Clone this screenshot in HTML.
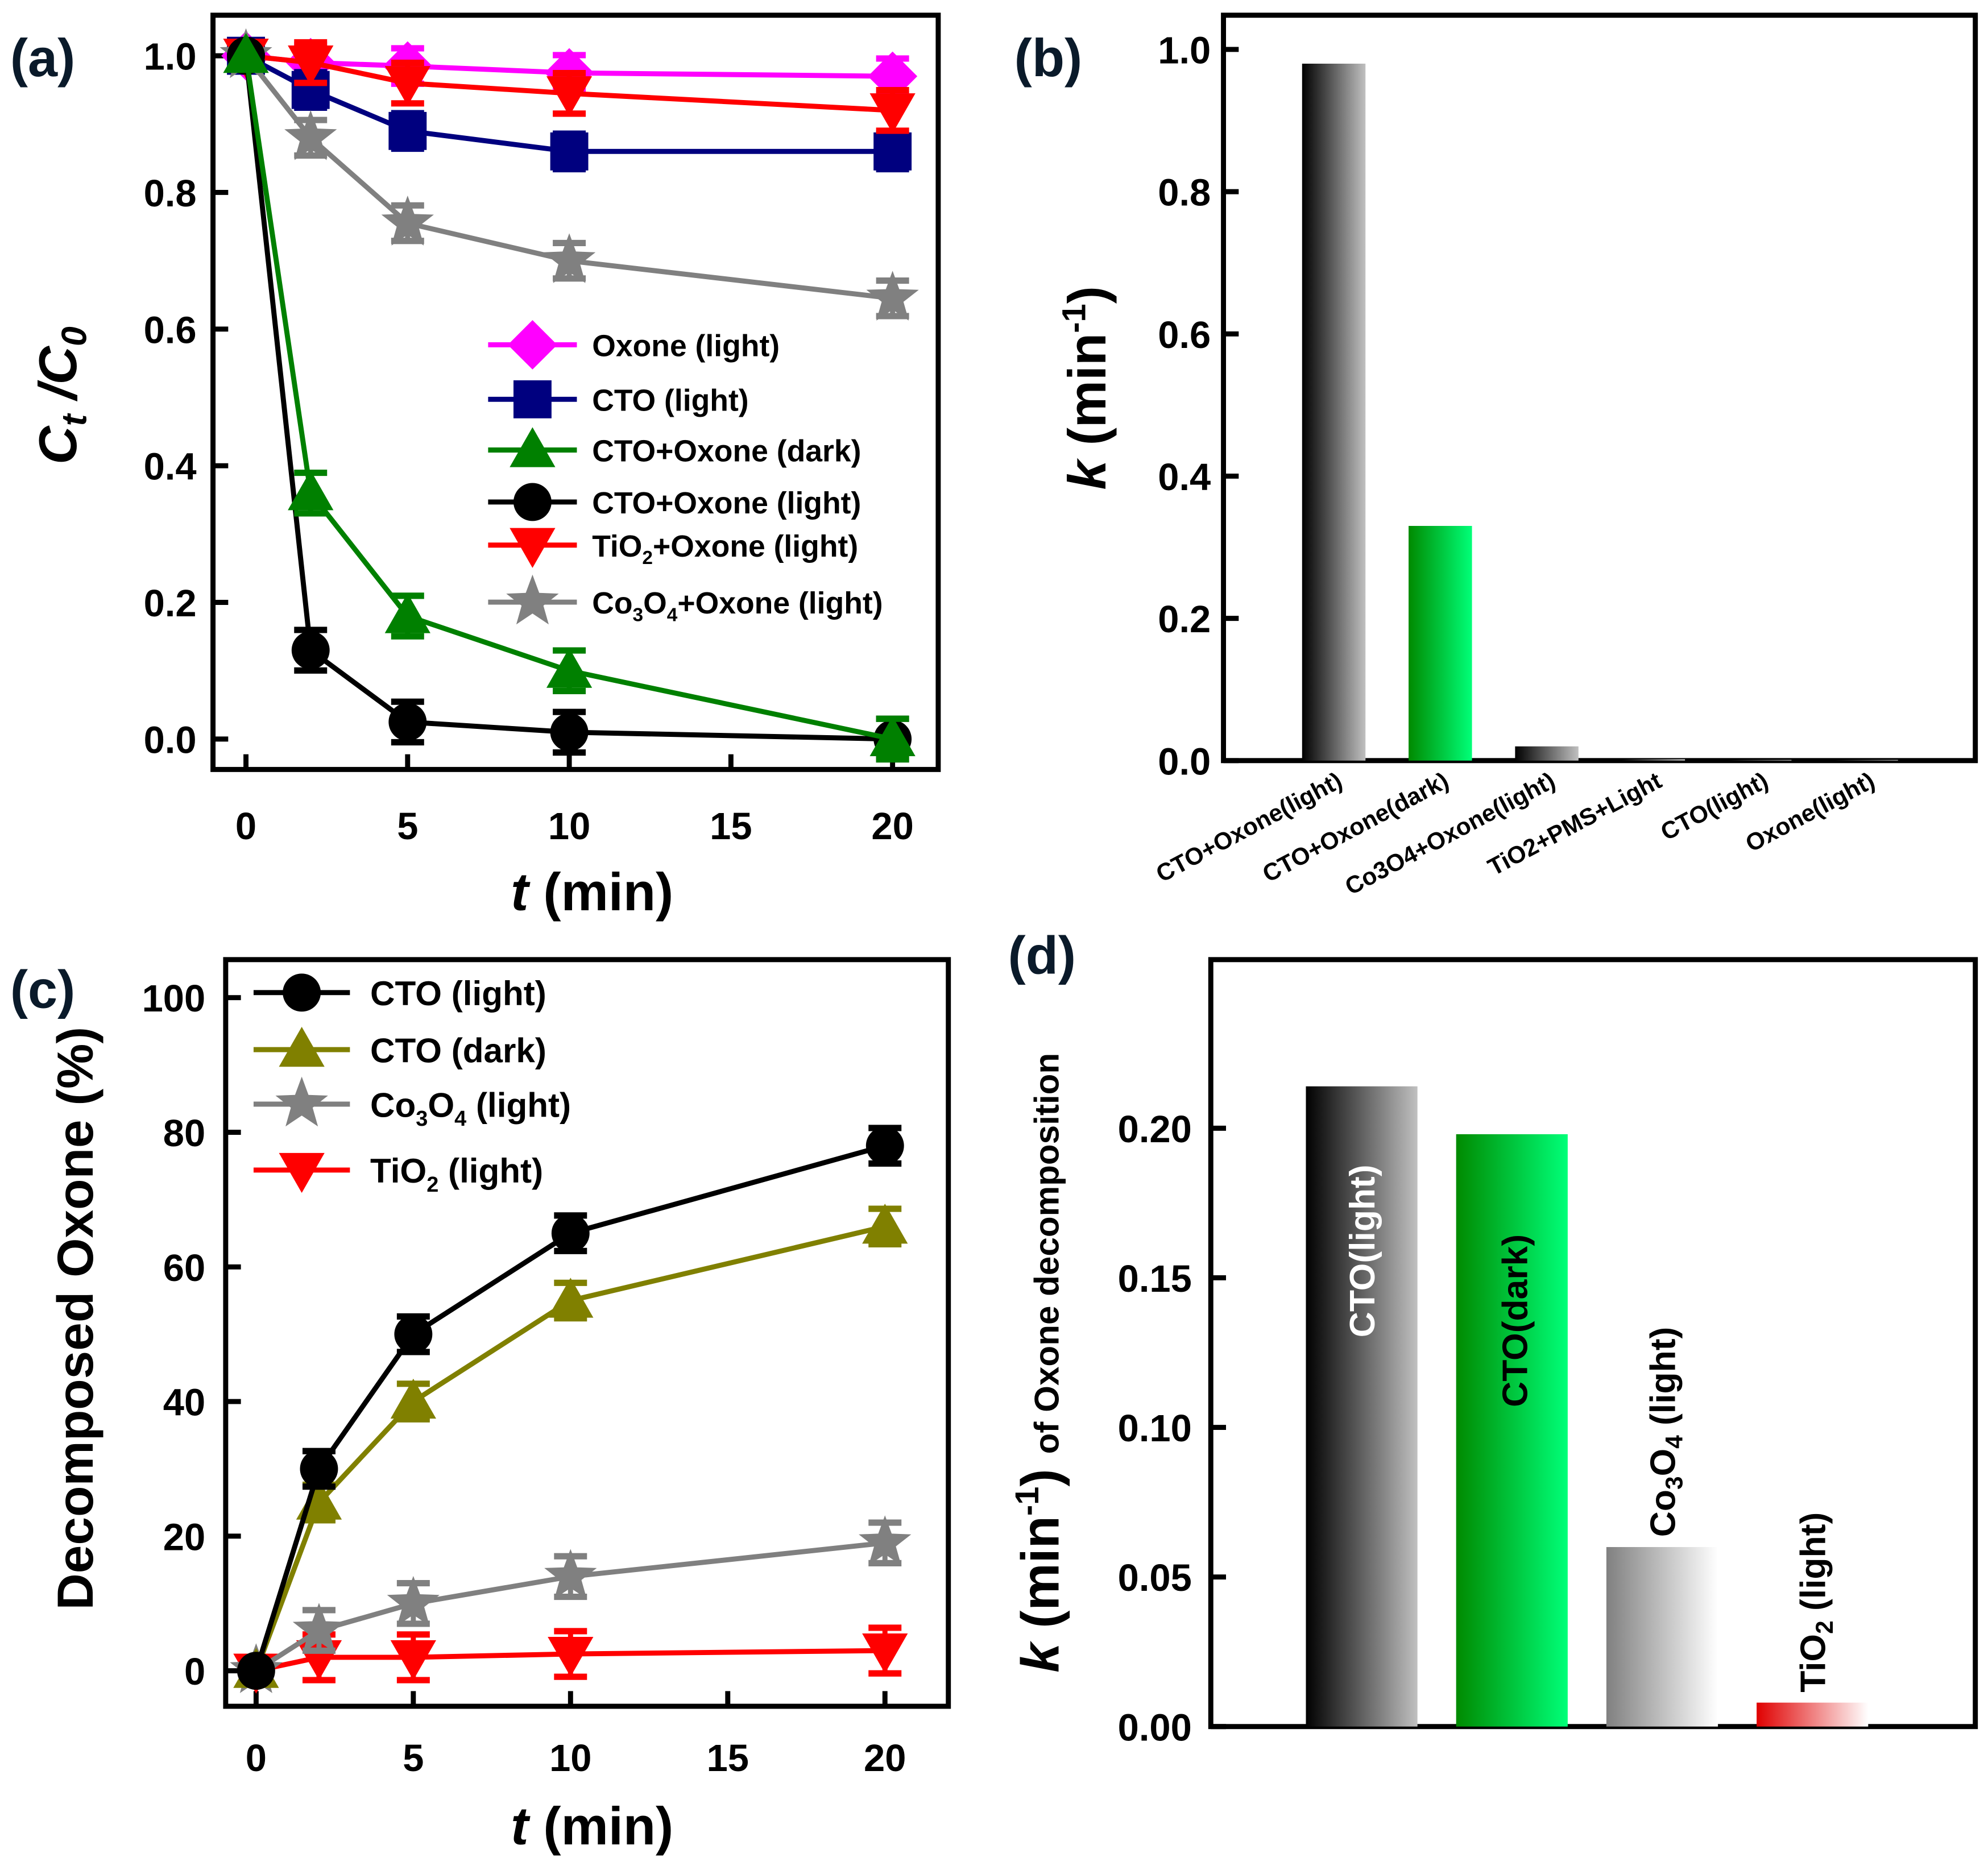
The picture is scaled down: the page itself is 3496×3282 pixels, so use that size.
<!DOCTYPE html>
<html><head><meta charset="utf-8"><style>
html,body{margin:0;padding:0;background:#fff}
svg{display:block}
text{font-family:"Liberation Sans",Arial,sans-serif;font-weight:bold}
</style></head><body>
<svg id="fig" xmlns="http://www.w3.org/2000/svg" width="3496" height="3282" viewBox="0 0 1568 1472" preserveAspectRatio="none">
<defs>
<linearGradient id="gBlack"><stop offset="0" stop-color="#000"/><stop offset="1" stop-color="#c0c0c0"/></linearGradient>
<linearGradient id="gGreen"><stop offset="0" stop-color="#008a00"/><stop offset="1" stop-color="#00ff78"/></linearGradient>
<linearGradient id="gGray"><stop offset="0" stop-color="#808080"/><stop offset="1" stop-color="#fff"/></linearGradient>
<linearGradient id="gRed"><stop offset="0" stop-color="#e00000"/><stop offset="1" stop-color="#fff"/></linearGradient>
</defs>
</svg>
<script>
// ---- data panel (a)
const timesA = [0, 2, 5, 10, 20];
const oxoneLight = [1, 0.99, 0.985, 0.975, 0.97];
const ctoLight = [1, 0.95, 0.89, 0.86, 0.86];
const ctoOxoneDark = [1, 0.36, 0.18, 0.10, 0.0];
const ctoOxoneLight = [1, 0.13, 0.025, 0.01, 0.0];
const tio2OxoneLight = [1, 0.99, 0.96, 0.945, 0.92];
const co3o4OxoneLight = [1, 0.88, 0.755, 0.70, 0.645];
const ticksAy = ["0.0","0.2","0.4","0.6","0.8","1.0"];
const ticksX = ["0","5","10","15","20"];
// ---- data panel (b)
const catsB = ["CTO+Oxone(light)","CTO+Oxone(dark)","Co3O4+Oxone(light)","TiO2+PMS+Light","CTO(light)","Oxone(light)"];
const valsB = [0.98, 0.33, 0.02, 0.002, 0.001, 0.001];
const ticksBy = ["0.0","0.2","0.4","0.6","0.8","1.0"];
// ---- data panel (c)
const timesC = [0, 2, 5, 10, 20];
const cLight = [0, 30, 50, 65, 78];
const cDark = [0, 25, 40, 55, 66];
const cCo = [0, 6, 10, 14, 19];
const cTi = [0, 2, 2, 2.5, 3];
const ticksCy = ["0","20","40","60","80","100"];
// ---- data panel (d)
const catsD = ["CTO(light)","CTO(dark)","Co3O4 (light)","TiO2 (light)"];
const valsD = [0.214, 0.198, 0.060, 0.008];
const ticksDy = ["0.00","0.05","0.10","0.15","0.20"];

const NS="http://www.w3.org/2000/svg";
const svg=document.getElementById('fig');
function el(tag,attrs,parent,txt){const e=document.createElementNS(NS,tag);for(const k in attrs)e.setAttribute(k,attrs[k]);if(txt!==undefined)e.textContent=txt;(parent||svg).appendChild(e);return e;}
function grp(name){const g=el('g',{});return g;}

function marker(g,type,x,y,c,s){
  s=s||15;
  if(type==='circle')return el('circle',{cx:x,cy:y,r:s,fill:c},g);
  if(type==='square')return el('rect',{x:x-s,y:y-s,width:2*s,height:2*s,fill:c},g);
  if(type==='diamond')return el('polygon',{points:`${x},${y-s*1.3} ${x+s*1.3},${y} ${x},${y+s*1.3} ${x-s*1.3},${y}`,fill:c},g);
  if(type==='up')return el('polygon',{points:`${x},${y-s*1.2} ${x+s*1.2},${y+s*0.9} ${x-s*1.2},${y+s*0.9}`,fill:c},g);
  if(type==='down')return el('polygon',{points:`${x},${y+s*1.2} ${x+s*1.2},${y-s*0.9} ${x-s*1.2},${y-s*0.9}`,fill:c},g);
  if(type==='star'){let p=[];for(let i=0;i<10;i++){const r=i%2?s*0.6:s*1.45;const a=-Math.PI/2+i*Math.PI/5;p.push((x+r*Math.cos(a)).toFixed(1)+','+(y+r*Math.sin(a)).toFixed(1));}return el('polygon',{points:p.join(' '),fill:c},g);}
}

function frame(x0,y0,x1,y1,name){const r=el('rect',{x:x0,y:y0,width:x1-x0,height:y1-y0,fill:'none',stroke:'#000','stroke-width':4});}

function lineSeries(name,xs,ys,X,Y,color,type,err){
  const g=grp(name);
  const pts=xs.map((t,i)=>X(t)+','+Y(ys[i])).join(' ');
  el('polyline',{points:pts,fill:'none',stroke:color,'stroke-width':4},g);
  xs.forEach((t,i)=>{const x=X(t),y=Y(ys[i]);
    if(i>0){el('line',{x1:x,x2:x,y1:y-err,y2:y+err,stroke:color,'stroke-width':4},g);
      el('line',{x1:x-13,x2:x+13,y1:y-err,y2:y-err,stroke:color,'stroke-width':5},g);
      el('line',{x1:x-13,x2:x+13,y1:y+err,y2:y+err,stroke:color,'stroke-width':5},g);}
    marker(g,type,x,y,color);
  });
}

// ===== Panel (a)
{
const X=t=>194+t*25.5, Y=v=>583-v*539;
frame(168,12,740,607,'panel-a-frame');
const ax=grp('panel-a-y-axis');
ticksAy.forEach(s=>{const y=Y(+s);el('line',{x1:168,x2:180,y1:y,y2:y,stroke:'#000','stroke-width':4},ax);el('text',{x:155,y:y+11,'font-size':30,'text-anchor':'end'},ax,s);});
const bx=grp('panel-a-x-axis');
ticksX.forEach(s=>{const x=X(+s);el('line',{x1:x,x2:x,y1:607,y2:595,stroke:'#000','stroke-width':4},bx);el('text',{x:x,y:662,'font-size':30,'text-anchor':'middle'},bx,s);});
const xt=el('text',{x:467,y:718,'font-size':42,'text-anchor':'middle'});xt.innerHTML='<tspan font-style="italic">t</tspan> (min)';

const yt=el('text',{transform:'translate(60,312) rotate(-90)','font-size':42,'text-anchor':'middle','font-style':'italic'});
yt.innerHTML='C<tspan font-size="28" dy="8">t</tspan><tspan dy="-8"> /C</tspan><tspan font-size="28" dy="8">0</tspan>';

lineSeries('series-oxone-light',timesA,oxoneLight,X,Y,'#ff00ff','diamond',14);
lineSeries('series-cto-light',timesA,ctoLight,X,Y,'#00007f','square',14);
lineSeries('series-tio2-oxone-light',timesA,tio2OxoneLight,X,Y,'#ff0000','down',16);
lineSeries('series-co3o4-oxone-light',timesA,co3o4OxoneLight,X,Y,'#808080','star',14);
lineSeries('series-cto-oxone-light',timesA,ctoOxoneLight,X,Y,'#000','circle',16);
lineSeries('series-cto-oxone-dark',timesA,ctoOxoneDark,X,Y,'#008000','up',16);
const leg=[['Oxone (light)','#ff00ff','diamond',272],['CTO (light)','#00007f','square',315],['CTO+Oxone (dark)','#008000','up',355],['CTO+Oxone (light)','#000','circle',396],['TiO<tspan font-size="15" dy="6">2</tspan><tspan dy="-6">+Oxone (light)</tspan>','#ff0000','down',430],['Co<tspan font-size="15" dy="6">3</tspan><tspan dy="-6">O</tspan><tspan font-size="15" dy="6">4</tspan><tspan dy="-6">+Oxone (light)</tspan>','#808080','star',475]];
leg.forEach(l=>{const g=grp('legend-entry');el('line',{x1:385,x2:455,y1:l[3],y2:l[3],stroke:l[1],'stroke-width':4},g);marker(g,l[2],420,l[3],l[1]);const t=el('text',{x:467,y:l[3]+9,'font-size':24},g);t.innerHTML=l[0];});
}

// ===== Panel (b)
{
const Y=v=>600-v*561;
frame(965,12,1558,600,'panel-b-frame');
const ax=grp('panel-b-y-axis');
ticksBy.forEach(s=>{const y=Y(+s);el('line',{x1:965,x2:977,y1:y,y2:y,stroke:'#000','stroke-width':4},ax);el('text',{x:955,y:y+11,'font-size':30,'text-anchor':'end'},ax,s);});
const yt=el('text',{transform:'translate(872,306) rotate(-90)','font-size':42,'text-anchor':'middle'});
yt.innerHTML='<tspan font-style="italic">k</tspan> (min<tspan font-size="26" dy="-16">-1</tspan><tspan dy="16">)</tspan>';

const fills=['url(#gBlack)','url(#gGreen)','url(#gBlack)','url(#gBlack)','url(#gBlack)','url(#gBlack)'];
catsB.forEach((c,i)=>{const cx=1052+i*84;const g=grp('bar-b-'+i);
  const h=600-Y(valsB[i]);el('rect',{x:cx-25,y:Y(valsB[i]),width:50,height:Math.max(h,0),fill:fills[i]},g);
  el('text',{transform:`translate(${cx+8},${620}) rotate(-28)`,'font-size':19,'text-anchor':'end'},g,c);
});
}

// ===== Panel (c)
{
const X=t=>202+t*24.8, Y=v=>1318-v*5.31;
frame(178,757,748,1346,'panel-c-frame');
const ax=grp('panel-c-y-axis');
ticksCy.forEach(s=>{const y=Y(+s);el('line',{x1:178,x2:190,y1:y,y2:y,stroke:'#000','stroke-width':4},ax);el('text',{x:162,y:y+11,'font-size':30,'text-anchor':'end'},ax,s);});
const bx=grp('panel-c-x-axis');
ticksX.forEach(s=>{const x=X(+s);el('line',{x1:x,x2:x,y1:1346,y2:1334,stroke:'#000','stroke-width':4},bx);el('text',{x:x,y:1397,'font-size':30,'text-anchor':'middle'},bx,s);});
const xt=el('text',{x:467,y:1455,'font-size':42,'text-anchor':'middle'});xt.innerHTML='<tspan font-style="italic">t</tspan> (min)';

const yt=el('text',{transform:'translate(73,1040) rotate(-90)','font-size':40,'text-anchor':'middle'},svg,'Decomposed Oxone (%)');

lineSeries('series-tio2-light',timesC,cTi,X,Y,'#ff0000','down',18);
lineSeries('series-co3o4-light',timesC,cCo,X,Y,'#808080','star',16);
lineSeries('series-cto-dark',timesC,cDark,X,Y,'#808000','up',14);
lineSeries('series-cto-light-c',timesC,cLight,X,Y,'#000','circle',14);
const leg=[['CTO (light)','#000','circle',783],['CTO (dark)','#808000','up',828],['Co<tspan font-size="17" dy="7">3</tspan><tspan dy="-7">O</tspan><tspan font-size="17" dy="7">4</tspan><tspan dy="-7"> (light)</tspan>','#808080','star',871],['TiO<tspan font-size="17" dy="7">2</tspan><tspan dy="-7"> (light)</tspan>','#ff0000','down',923]];
leg.forEach(l=>{const g=grp('legend-entry-c');el('line',{x1:200,x2:276,y1:l[3],y2:l[3],stroke:l[1],'stroke-width':4},g);marker(g,l[2],238,l[3],l[1]);const t=el('text',{x:292,y:l[3]+10,'font-size':27},g);t.innerHTML=l[0];});
}

// ===== Panel (d)
{
const Y=v=>1362-v*2360;
frame(955,757,1558,1362,'panel-d-frame');
const ax=grp('panel-d-y-axis');
ticksDy.forEach(s=>{const y=Y(+s);el('line',{x1:955,x2:967,y1:y,y2:y,stroke:'#000','stroke-width':4},ax);el('text',{x:940,y:y+11,'font-size':30,'text-anchor':'end'},ax,s);});
const yt=el('text',{transform:'translate(835,1075) rotate(-90)','font-size':42,'text-anchor':'middle'});
yt.innerHTML='<tspan font-style="italic">k</tspan> (min<tspan font-size="26" dy="-16">-1</tspan><tspan dy="16">) </tspan><tspan font-size="27">of Oxone decomposition</tspan>';

const fills=['url(#gBlack)','url(#gGreen)','url(#gGray)','url(#gRed)'];
const labs=['CTO(light)','CTO(dark)','Co<tspan font-size="19" dy="6">3</tspan><tspan dy="-6">O</tspan><tspan font-size="19" dy="6">4</tspan><tspan dy="-6"> (light)</tspan>','TiO<tspan font-size="19" dy="6">2</tspan><tspan dy="-6"> (light)</tspan>'];
catsD.forEach((c,i)=>{const cx=1074+i*118.5;const g=grp('bar-d-'+i);
  const y=Y(valsD[i]);el('rect',{x:cx-44,y:y,width:88,height:1362-y,fill:fills[i]},g);
  let t;
  if(i===0)t=el('text',{transform:`translate(${cx+10},1055) rotate(-90)`,'font-size':28,fill:'#fff'},g);
  else if(i===1)t=el('text',{transform:`translate(${cx+12},1110) rotate(-90)`,'font-size':28,fill:'#000'},g);
  else t=el('text',{transform:`translate(${cx+10},${y-8}) rotate(-90)`,'font-size':28,fill:'#000'},g);
  t.innerHTML=labs[i];
});
}

// panel letters
[['(a)',8,60],['(b)',800,60],['(c)',8,795],['(d)',795,768]].forEach(p=>{const t=el('text',{x:p[1],y:p[2],'font-size':42,fill:'#0a1a2a'},svg,p[0]);});
</script>
</body></html>
